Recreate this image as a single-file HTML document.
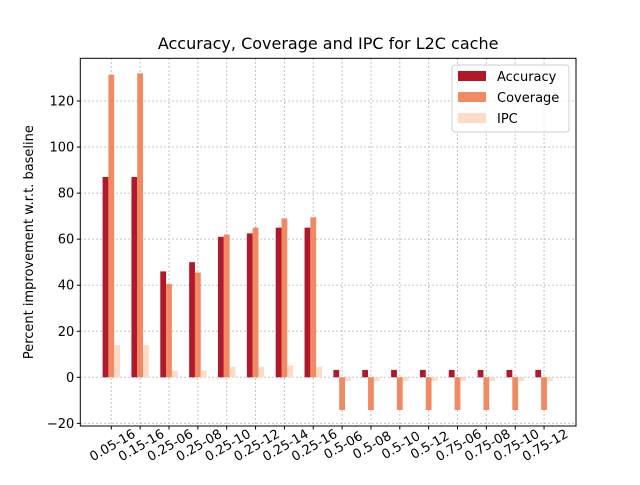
<!DOCTYPE html>
<html><head><meta charset="utf-8"><style>
body{margin:0;background:#fff;font-family:"Liberation Sans","DejaVu Sans",sans-serif}
</style></head><body>
<svg id="c" width="640" height="480" xmlns="http://www.w3.org/2000/svg" font-family="DejaVu Sans, Liberation Sans, sans-serif"></svg>
<script>
const categories=["0.05-16","0.15-16","0.25-06","0.25-08","0.25-10","0.25-12","0.25-14","0.25-16","0.5-06","0.5-08","0.5-10","0.5-12","0.75-06","0.75-08","0.75-10","0.75-12"];
const accuracy=[87,87,46,50,61,62.5,65,65,3.2,3.2,3.2,3.2,3.2,3.2,3.2,3.2];
const coverage=[131.4,132,40.5,45.5,62,65,69,69.5,-14.2,-14.2,-14.2,-14.2,-14.2,-14.2,-14.2,-14.2];
const ipc=[14,14,2.9,2.9,4.6,4.6,5.1,4.6,-1.6,-1.6,-1.6,-1.6,-1.6,-1.6,-1.6,-1.6];
const yTicks=[-20,0,20,40,60,80,100,120];
const L=80.3,R=576,T=58.3,B=426;
const y=v=>377.3-v*2.3025;
const x=i=>111.3+i*28.85;
const bw=5.8;
const NS="http://www.w3.org/2000/svg";
const svg=document.getElementById('c');
function mk(t,a,p){const e=document.createElementNS(NS,t);for(const k in a)e.setAttribute(k,a[k]);(p||svg).appendChild(e);return e;}
const grid=mk('g',{});


yTicks.forEach(v=>{mk('line',{x1:L,x2:R,y1:y(v),y2:y(v),stroke:'#b0b0b0','stroke-dasharray':'1.5,2.5','stroke-width':1},grid);});
categories.forEach((c,i)=>{mk('line',{x1:x(i),x2:x(i),y1:T,y2:B,stroke:'#b0b0b0','stroke-dasharray':'1.5,2.5','stroke-width':1},grid);});
const series=[[accuracy,'#b2182b',-bw,'accuracy'],[coverage,'#ef8a62',0,'coverage'],[ipc,'#fddbc7',bw,'ipc']];
series.forEach(([vals,col,off,nm])=>{
 const g=mk('g',{});
 
 
 vals.forEach((v,i)=>{
  const r=mk('rect',{x:x(i)+off-bw/2,y:Math.min(y(v),y(0)),width:bw,height:Math.abs(y(v)-y(0)),fill:col},g);
  
  
 });
});
const fr=mk('rect',{x:L,y:T,width:R-L,height:B-T,fill:'none',stroke:'#000','stroke-width':1});


yTicks.forEach(v=>{
 mk('line',{x1:L-3.5,x2:L,y1:y(v),y2:y(v),stroke:'#000'});
 const t=mk('text',{x:L-6,y:y(v)+4.5,'text-anchor':'end','font-size':'13'});
 t.textContent=v<0?'\u2212'+(-v):v;
 
 
});
categories.forEach((c,i)=>{
 mk('line',{x1:x(i),x2:x(i),y1:B,y2:B+3.5,stroke:'#000'});
 const cx=x(i)+1, cy=B+19;
 const t=mk('text',{x:cx,y:cy+4.5,'text-anchor':'middle','font-size':'13',transform:`rotate(-30 ${cx} ${cy})`});
 t.textContent=c;
 
 
});
const yt=mk('text',{x:33,y:(T+B)/2,'text-anchor':'middle','font-size':'13',transform:`rotate(-90 33 ${(T+B)/2})`});
yt.textContent='Percent improvement w.r.t. baseline';


const tt=mk('text',{x:(L+R)/2,y:49,'text-anchor':'middle','font-size':'16'});
tt.textContent='Accuracy, Coverage and IPC for L2C cache';


const lg=mk('g',{});


mk('rect',{x:452,y:65,width:117,height:67,rx:3,fill:'#fff','fill-opacity':0.8,stroke:'#ccc'},lg);
[['Accuracy','#b2182b'],['Coverage','#ef8a62'],['IPC','#fddbc7']].forEach(([n,c],i)=>{
 const e=mk('g',{},lg);
 
 
 mk('rect',{x:458,y:71+i*21,width:28,height:10,fill:c},e);
 const t=mk('text',{x:497,y:81+i*21,'font-size':'13'},e);
 t.textContent=n;
});
</script>
</body></html>
